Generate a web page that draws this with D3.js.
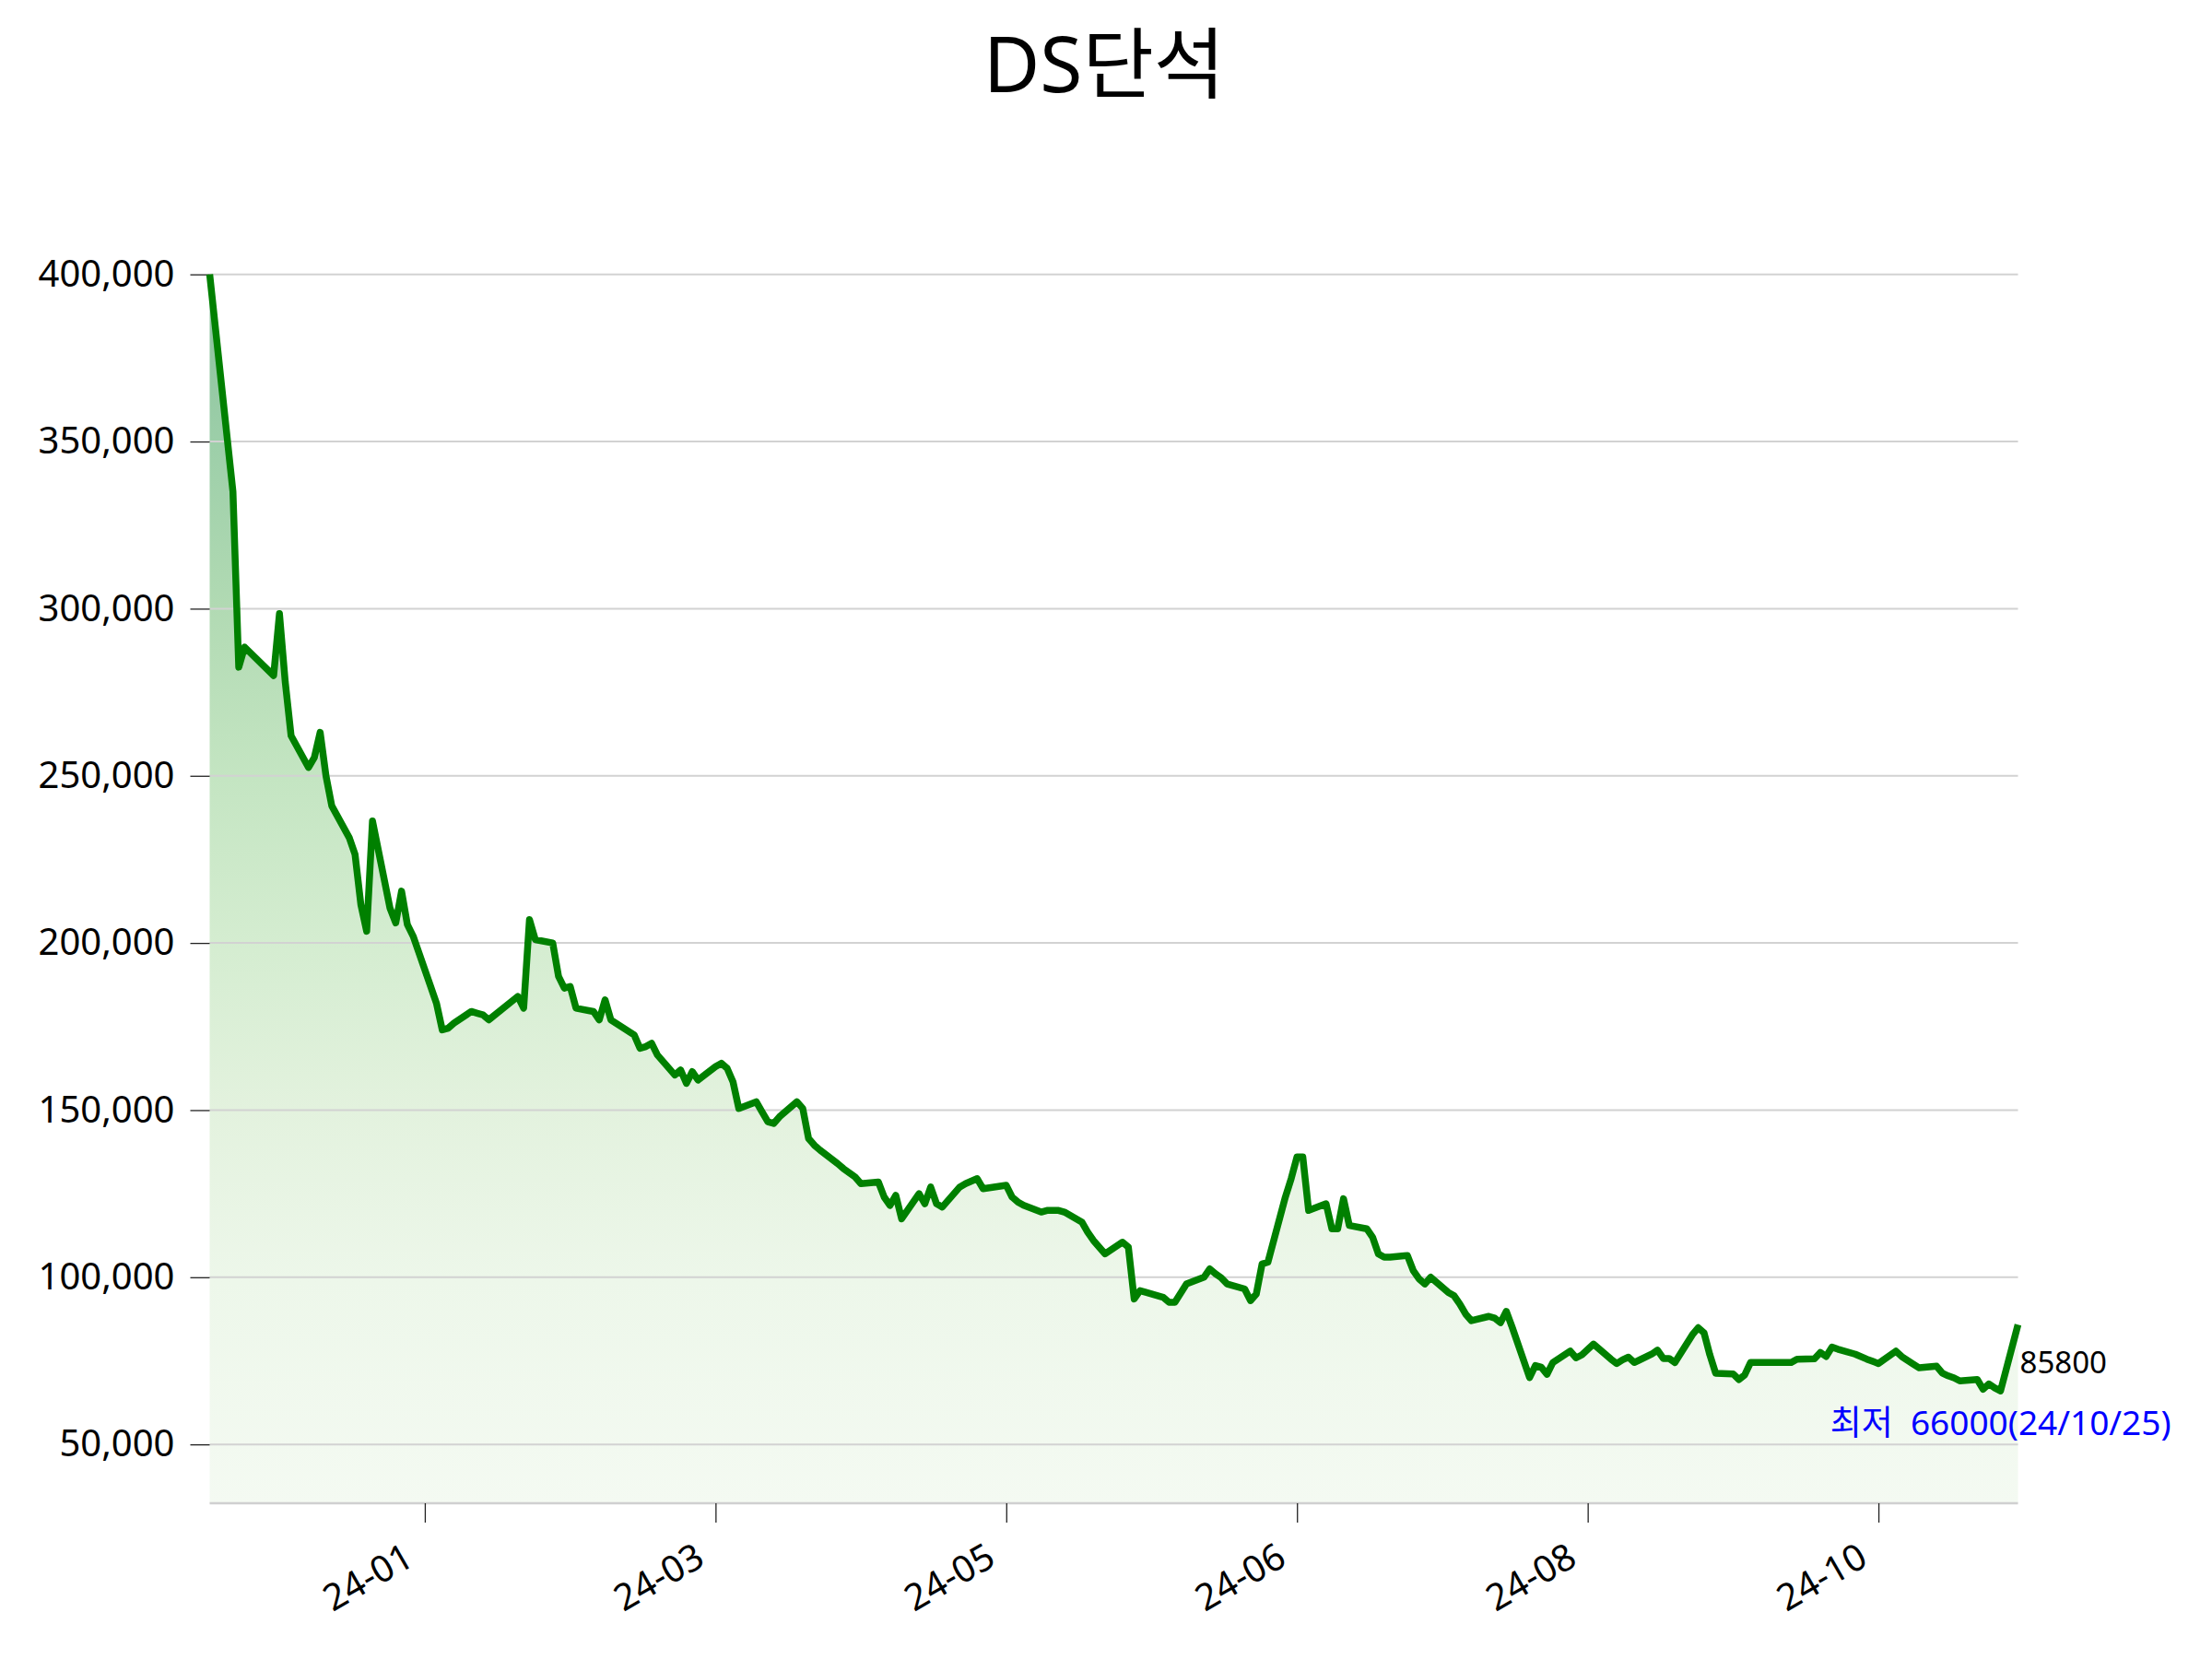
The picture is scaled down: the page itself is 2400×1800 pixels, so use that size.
<!DOCTYPE html>
<html>
<head>
<meta charset="utf-8">
<script src="https://cdn.jsdelivr.net/npm/d3@7"></script>
<style>
  html, body { margin: 0; padding: 0; background: #fff; }
  svg { display: block; }
  text { font-family: "Noto Sans", "Noto Sans CJK KR", sans-serif; }
</style>
</head>
<body>
<svg id="chart" width="2400" height="1800"></svg>
<script>
// ---- data ----
const title = "DS단석";
const startDate = "2023-12-22";
const endDate = "2024-10-28";
const holidays = ["2023-12-25","2023-12-29","2024-01-01","2024-02-09","2024-02-12","2024-03-01",
  "2024-04-10","2024-05-01","2024-05-06","2024-05-15","2024-06-06","2024-08-15",
  "2024-09-16","2024-09-17","2024-09-18","2024-10-01","2024-10-03","2024-10-09"];
const prices = [
  400000,335000,282500,288500,
  280000,298500,278000,262000,252500,255500,263000,250000,241000,231500,226500,211500,203500,236500,
  210500,206000,215500,205500,202000,187000,182000,174000,
  174500,176000,179500,179000,178500,177000,184000,180500,207000,201000,200000,190000,186500,187000,
  180500,179500,177000,183000,177000,
  172500,168500,169000,170000,166500,160500,162000,158000,161500,159000,163000,164000,162500,158500,
  150500,152500,149500,146500,146000,148000,
  152500,150500,141500,139500,138000,134000,132500,130000,128000,128500,124000,121500,124500,117500,
  125000,122000,127000,122000,121000,127000,128000,
  129500,126500,127500,124000,122500,121500,119500,120000,120000,119500,116500,113500,111000,109000,
  107000,110500,109000,93500,96000,95500,
  94000,92500,92500,98000,100000,102500,101000,99800,98000,96500,93000,95000,104000,104500,124000,
  129500,136000,136000,120000,
  122000,114500,114500,123500,115500,114500,112000,107000,106000,106000,106500,102000,99500,98000,
  100000,95500,94500,92000,89000,87000,88300,87800,86400,
  89800,85100,70000,73600,73100,71000,74500,77900,75900,76800,80000,75500,74200,75300,76100,74500,
  77000,78200,75700,75700,74500,
  82800,84900,83400,76800,71300,71100,69400,70800,74500,74500,74500,75500,75600,77500,76300,79100,
  78500,77000,
  75500,74200,77900,76300,74000,72900,73400,71300,70500,69900,69000,69400,66500,68100,66900,66000,85800
];
const yTickValues = [50000,100000,150000,200000,250000,300000,350000,400000];
const xTickDates = ["2024-01-28","2024-03-18","2024-05-07","2024-06-26","2024-08-15","2024-10-04"];
const lowLabelPrefix = "최저";

// ---- build trading days ----
const parse = d3.timeParse("%Y-%m-%d");
const fmtKey = d3.timeFormat("%Y-%m-%d");
const holidaySet = new Set(holidays);
const tradingDays = d3.timeDay.range(parse(startDate), d3.timeDay.offset(parse(endDate), 1))
  .filter(d => d.getDay() !== 0 && d.getDay() !== 6 && !holidaySet.has(fmtKey(d)));
const data = tradingDays.map((d, i) => ({date: d, value: prices[i]}));

// ---- layout ----
const svg = d3.select("#chart");
const plotLeft = 227.5, plotRight = 2189.5, plotTop = 297.7, plotBottom = 1631;

const x = d3.scaleTime().domain([parse(startDate), parse(endDate)]).range([plotLeft, plotRight]);
const y = d3.scaleLinear().domain([32400, 400000]).range([plotBottom, plotTop]);

// gradient
const defs = svg.append("defs");
const grad = defs.append("linearGradient").attr("id", "fillGrad")
  .attr("gradientUnits", "userSpaceOnUse")
  .attr("x1", 0).attr("x2", 0).attr("y1", y(400000)).attr("y2", plotBottom);
[[0, "#88c09c"], [0.14, "#9dcfa9"], [0.27, "#b1dab3"], [0.41, "#c4e5c2"],
 [0.55, "#d5edd1"], [0.68, "#e3f2de"], [0.82, "#edf7ea"], [1, "#f4faf2"]]
  .forEach(([o, c]) => grad.append("stop").attr("offset", o).attr("stop-color", c));

// area
const area = d3.area().x(d => x(d.date)).y0(plotBottom).y1(d => y(d.value));
svg.append("path").datum(data).attr("d", area).attr("fill", "url(#fillGrad)");

// gridlines
svg.append("g").selectAll("line").data(yTickValues).join("line")
  .attr("x1", plotLeft).attr("x2", plotRight)
  .attr("y1", d => y(d)).attr("y2", d => y(d))
  .attr("stroke", "#d2d2d2").attr("stroke-width", 2);

// y axis
const yAxis = svg.append("g").attr("transform", `translate(${plotLeft},0)`)
  .call(d3.axisLeft(y).tickValues(yTickValues).tickFormat(d3.format(",")).tickSize(21).tickPadding(17));
yAxis.select(".domain").remove();
yAxis.selectAll(".tick line").attr("stroke", "#222").attr("stroke-width", 1.3);
yAxis.selectAll(".tick text").attr("font-size", 40).attr("fill", "#000")
  .attr("font-family", "'Noto Sans', sans-serif");

// x axis
const xAxis = svg.append("g").attr("transform", `translate(0,${plotBottom})`)
  .call(d3.axisBottom(x).tickValues(xTickDates.map(parse)).tickFormat(d3.timeFormat("%y-%m")).tickSize(21).tickSizeOuter(0));
xAxis.select(".domain").attr("stroke", "#d0d0d0").attr("stroke-width", 2.7)
  .attr("d", `M${plotLeft},0H${plotRight}`);
xAxis.selectAll(".tick line").attr("stroke", "#222").attr("stroke-width", 1.3);
xAxis.selectAll(".tick text")
  .attr("font-size", 40).attr("fill", "#000")
  .attr("font-family", "'Noto Sans', sans-serif")
  .attr("text-anchor", "end")
  .attr("dy", null).attr("y", 0)
  .attr("transform", "translate(-10,66) rotate(-30)");

// line
const line = d3.line().x(d => x(d.date)).y(d => y(d.value));
svg.append("path").datum(data).attr("d", line)
  .attr("fill", "none").attr("stroke", "#008000").attr("stroke-width", 7.5)
  .attr("stroke-linejoin", "round").attr("stroke-linecap", "butt");

// last value label
const last = data[data.length - 1];
svg.append("text").attr("x", x(last.date) + 2).attr("y", y(last.value) + 53)
  .attr("font-size", 33).attr("fill", "#000").text(String(last.value));

// lowest label
const low = data.reduce((a, b) => (b.value < a.value ? b : a));
const lowFmt = d3.timeFormat("%y/%m/%d");
svg.append("text").attr("x", x(low.date)).attr("y", y(low.value * 0.8))
  .attr("text-anchor", "middle").attr("font-size", 37).attr("fill", "#0000ff")
  .attr("xml:space", "preserve")
  .text(`${lowLabelPrefix}  ${low.value}(${lowFmt(low.date)})`);

// title
svg.append("text").attr("x", 1198).attr("y", 100).attr("text-anchor", "middle")
  .attr("font-size", 84).attr("fill", "#000").text(title);
</script>
</body>
</html>
